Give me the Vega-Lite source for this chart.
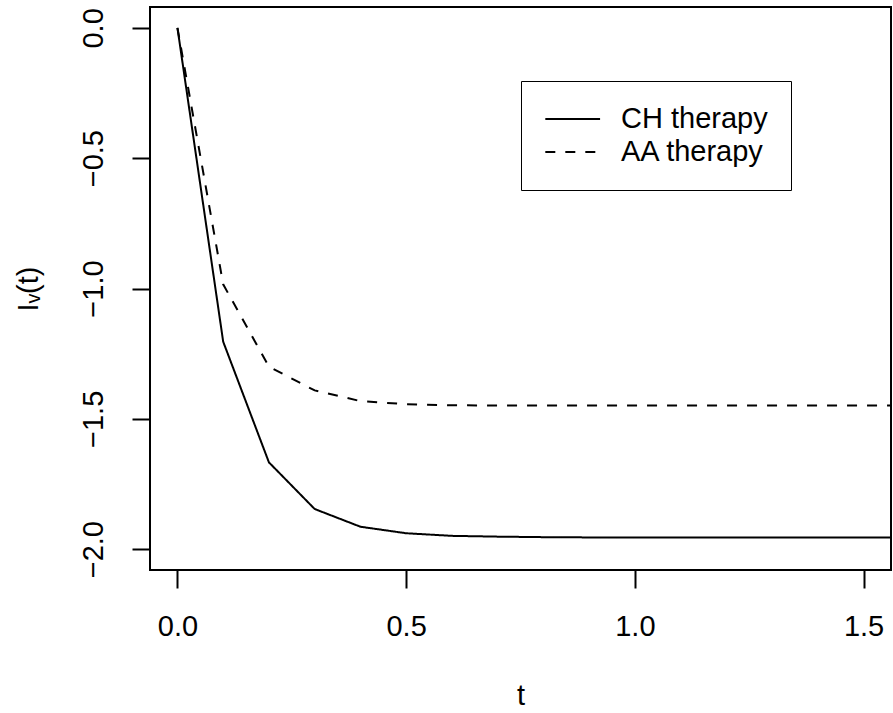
{
  "$schema": "https://vega.github.io/schema/vega-lite/v6.json",
  "width": 741,
  "height": 563,
  "autosize": {"type": "none"},
  "padding": {"left": 150, "top": 7, "right": 2, "bottom": 143},
  "background": "white",
  "config": {
    "font": "Liberation Sans",
    "view": {"stroke": "black", "strokeWidth": 2},
    "axis": {
      "domain": false,
      "grid": false,
      "tickColor": "black",
      "tickSize": 18,
      "tickWidth": 2,
      "labelFont": "Liberation Sans",
      "labelFontSize": 29,
      "labelColor": "black",
      "titleFont": "Liberation Sans",
      "titleFontSize": 29,
      "titleFontWeight": "normal",
      "titleColor": "black"
    },
    "legend": {
      "labelFont": "Liberation Sans",
      "labelFontSize": 29,
      "labelColor": "black"
    }
  },
  "data": {
    "values": [
      {"t": 0.0, "v": 0.0, "therapy": "CH therapy"},
      {"t": 0.1, "v": -1.204, "therapy": "CH therapy"},
      {"t": 0.2, "v": -1.667, "therapy": "CH therapy"},
      {"t": 0.3, "v": -1.846, "therapy": "CH therapy"},
      {"t": 0.4, "v": -1.914, "therapy": "CH therapy"},
      {"t": 0.5, "v": -1.939, "therapy": "CH therapy"},
      {"t": 0.6, "v": -1.949, "therapy": "CH therapy"},
      {"t": 0.7, "v": -1.952, "therapy": "CH therapy"},
      {"t": 0.8, "v": -1.954, "therapy": "CH therapy"},
      {"t": 0.9, "v": -1.955, "therapy": "CH therapy"},
      {"t": 1.0, "v": -1.955, "therapy": "CH therapy"},
      {"t": 1.2, "v": -1.955, "therapy": "CH therapy"},
      {"t": 1.4, "v": -1.955, "therapy": "CH therapy"},
      {"t": 1.6, "v": -1.955, "therapy": "CH therapy"},
      {"t": 1.8, "v": -1.955, "therapy": "CH therapy"},
      {"t": 2.0, "v": -1.955, "therapy": "CH therapy"},
      {"t": 0.0, "v": 0.0, "therapy": "AA therapy"},
      {"t": 0.1, "v": -0.984, "therapy": "AA therapy"},
      {"t": 0.2, "v": -1.300, "therapy": "AA therapy"},
      {"t": 0.3, "v": -1.391, "therapy": "AA therapy"},
      {"t": 0.4, "v": -1.432, "therapy": "AA therapy"},
      {"t": 0.5, "v": -1.444, "therapy": "AA therapy"},
      {"t": 0.6, "v": -1.448, "therapy": "AA therapy"},
      {"t": 0.7, "v": -1.449, "therapy": "AA therapy"},
      {"t": 0.8, "v": -1.449, "therapy": "AA therapy"},
      {"t": 0.9, "v": -1.449, "therapy": "AA therapy"},
      {"t": 1.0, "v": -1.449, "therapy": "AA therapy"},
      {"t": 1.2, "v": -1.449, "therapy": "AA therapy"},
      {"t": 1.4, "v": -1.449, "therapy": "AA therapy"},
      {"t": 1.6, "v": -1.449, "therapy": "AA therapy"},
      {"t": 1.8, "v": -1.449, "therapy": "AA therapy"},
      {"t": 2.0, "v": -1.449, "therapy": "AA therapy"}
    ]
  },
  "mark": {"type": "line", "clip": true, "color": "black", "strokeWidth": 2},
  "encoding": {
    "x": {
      "field": "t",
      "type": "quantitative",
      "scale": {"domain": [-0.06, 1.56], "nice": false, "zero": false},
      "axis": {
        "title": "t",
        "values": [0, 0.5, 1, 1.5],
        "format": ".1f",
        "labelPadding": 24,
        "titlePadding": 40
      }
    },
    "y": {
      "field": "v",
      "type": "quantitative",
      "scale": {"domain": [-2.08, 0.08], "nice": false, "zero": false},
      "axis": {
        "title": "Iᵥ(t)",
        "values": [-2, -1.5, -1, -0.5, 0],
        "format": ".1f",
        "labelAngle": -90,
        "labelPadding": 24,
        "titlePadding": 36
      }
    },
    "strokeDash": {
      "field": "therapy",
      "type": "nominal",
      "scale": {"domain": ["CH therapy", "AA therapy"], "range": [[1, 0], [10, 10]]},
      "legend": {
        "title": null,
        "orient": "none",
        "legendX": 371,
        "legendY": 74,
        "strokeColor": "black",
        "padding": 23,
        "symbolType": "M-1,0H3",
        "symbolSize": 750,
        "symbolStrokeWidth": 2,
        "symbolStrokeColor": "black",
        "labelOffset": 47,
        "rowPadding": 3
      }
    }
  }
}
